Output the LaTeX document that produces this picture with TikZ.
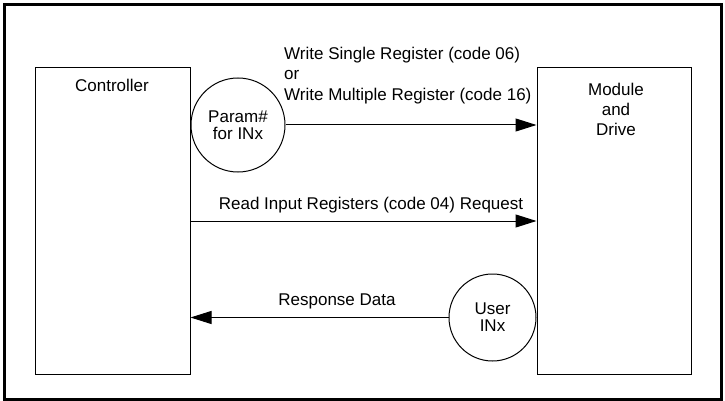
\documentclass[tikz,border=0pt]{standalone}
\usepackage{fontspec}
\setmainfont{Liberation Sans}
\usetikzlibrary{arrows.meta}

\tikzset{
  lbl/.style={font=\fontsize{17}{20.5}\selectfont, inner sep=0pt},
  block/.style={draw, line width=1pt, rectangle, inner sep=0pt},
  token/.style={draw, line width=1pt, circle, inner sep=0pt, align=center,
    font=\fontsize{17}{17}\selectfont},
  msg/.style={line width=1pt, -{Triangle[length=21pt,width=13pt]}},
}

\begin{document}
\begin{tikzpicture}[x=1pt, y=-1pt]
  \useasboundingbox (0,0) rectangle (725,401);
  % outer frame
  \draw[line width=3.3pt] (4.6,4.6) rectangle (721.3,399.5);

  % the two parties
  \node[block, minimum width=155pt, minimum height=306pt] (ctrl) at (112.5,221) {};
  \node[block, minimum width=154pt, minimum height=306pt] (mod) at (614,221) {};
  \node[lbl, anchor=base] (ctrltxt) at (112,92) {Controller};
  \node[lbl, anchor=base] (modtxt1) at (616,95.7) {Module};
  \node[lbl, anchor=base] (modtxt2) at (616,115.7) {and};
  \node[lbl, anchor=base] (modtxt3) at (616,135.7) {Drive};

  % data tokens
  \node[token, minimum size=94pt] (param) at (238,125) {Param\#\\for INx};
  \node[token, minimum size=87pt] (user) at (492.5,317.5) {User\\INx};

  % messages
  \draw[msg] (param.east) -- (param.east -| mod.west);
  \draw[msg] (ctrl.east) -- (ctrl.east -| mod.west);
  \draw[msg] (user.west) -- (user.west -| ctrl.east);

  \node[lbl, anchor=base west] (w1) at (284,59.5) {Write Single Register (code 06)};
  \node[lbl, anchor=base west] (w2) at (284,80) {or};
  \node[lbl, anchor=base west] (w3) at (284,100.5) {Write Multiple Register (code 16)};
  \node[lbl, anchor=base] (rd) at (371,209.3) {Read Input Registers (code 04) Request};
  \node[lbl, anchor=base] (resp) at (337,305) {Response Data};
\end{tikzpicture}
\end{document}
